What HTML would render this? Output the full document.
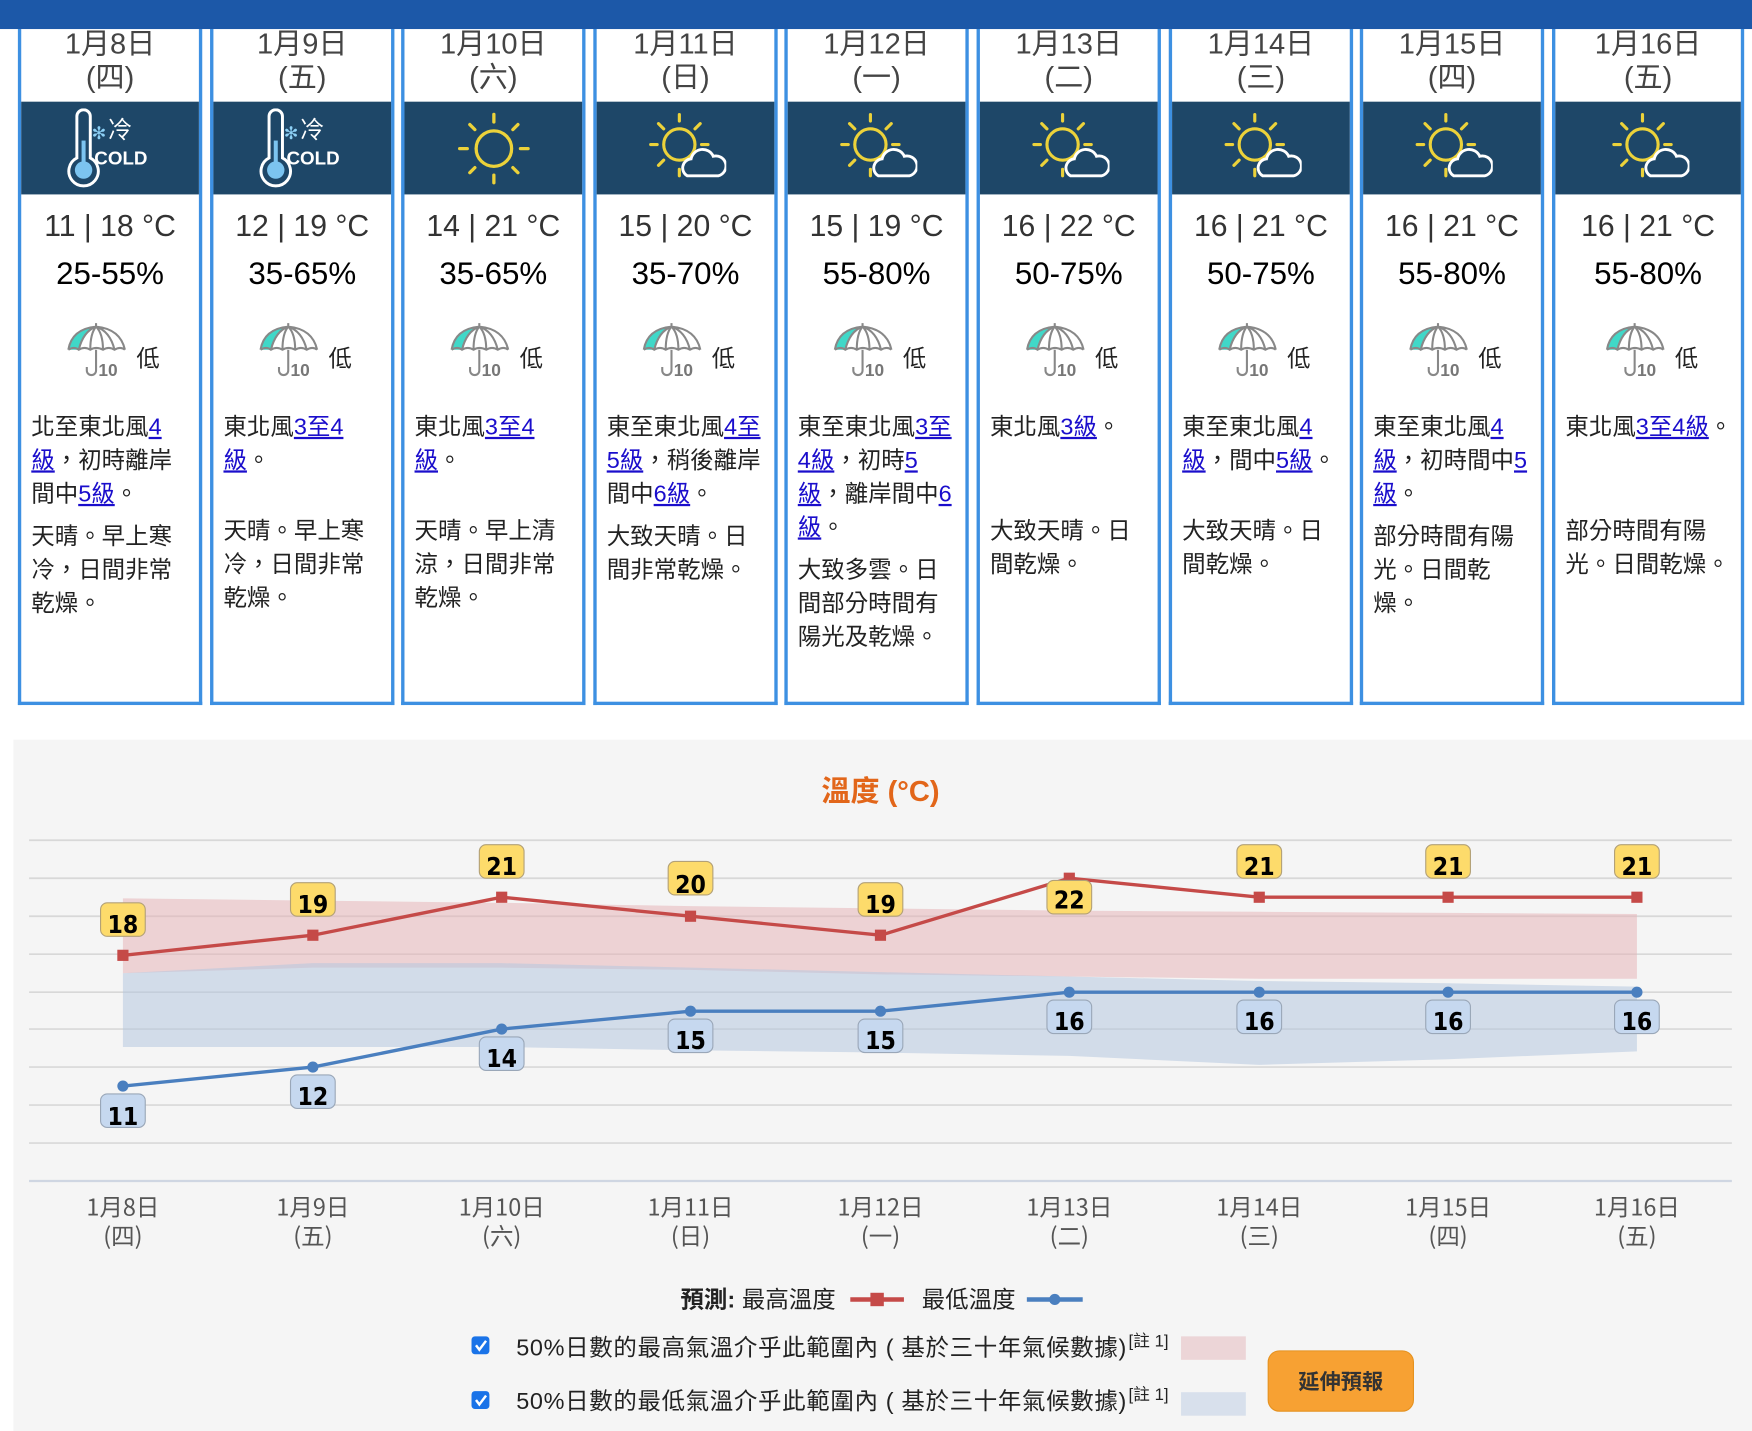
<!DOCTYPE html>
<html><head><meta charset="utf-8">
<style>
html,body{margin:0;padding:0;width:1752px;height:1431px;overflow:hidden;background:#fff;}
#wrap{position:absolute;left:0;top:0;width:1568px;height:1281px;transform:scale(1.117347);transform-origin:0 0;font-family:"Liberation Sans","Noto Sans CJK TC",sans-serif;}
.top{position:absolute;left:0;top:0;width:1568px;height:26px;background:#1c58a8;z-index:5;}
.card{position:absolute;top:-10px;width:159px;height:638px;border:3px solid #3d90e2;border-top:none;background:#fff;}
.date{position:absolute;top:34px;left:0;right:0;text-align:center;font-size:26px;line-height:30px;color:#444;}
.band{position:absolute;top:101px;left:0;right:0;height:83px;background:#1e4768;}
.band svg{position:absolute;left:0;top:0;}
.tmp{position:absolute;top:197px;left:0;right:0;text-align:center;font-size:27px;color:#333;}
.hum{position:absolute;top:239px;left:0;right:0;text-align:center;font-size:28px;color:#000;}
.umb{position:absolute;top:298px;left:37px;}
.low{position:absolute;top:315px;left:103px;font-size:21px;color:#222;font-family:"Noto Sans CJK TC",sans-serif;}
.txt{position:absolute;top:378px;left:9px;width:160px;font-size:21px;line-height:30px;color:#222;white-space:nowrap;}
.wind{min-height:85px;margin-bottom:8px;}
.txt u{color:#1a0dcc;}
#chart{position:absolute;left:0;top:0;}
</style></head><body><div id="wrap">
<svg width="0" height="0" style="position:absolute">
<defs>
<symbol id="sun" viewBox="0 0 60 60">
<g stroke="#ecd23a" stroke-width="2.6" fill="none" stroke-linecap="round">
<circle cx="30" cy="30" r="14"/>
<line x1="30" y1="3" x2="30" y2="9"/><line x1="30" y1="51" x2="30" y2="57"/>
<line x1="3" y1="30" x2="9" y2="30"/><line x1="51" y1="30" x2="57" y2="30"/>
<line x1="11" y1="11" x2="15" y2="15"/><line x1="45" y1="45" x2="49" y2="49"/>
<line x1="49" y1="11" x2="45" y2="15"/><line x1="11" y1="49" x2="15" y2="45"/>
</g></symbol>
<symbol id="sunc" viewBox="0 0 60 60">
<g stroke="#ecd23a" stroke-width="2.4" fill="none" stroke-linecap="round">
<circle cx="24" cy="26" r="12"/>
<line x1="24" y1="3" x2="24" y2="8"/><line x1="24" y1="45" x2="24" y2="50"/>
<line x1="2" y1="26" x2="7" y2="26"/><line x1="41" y1="26" x2="46" y2="26"/>
<line x1="8" y1="10" x2="12" y2="14"/><line x1="8" y1="42" x2="12" y2="38"/>
<line x1="40" y1="10" x2="36" y2="14"/>
</g>
<path d="M30 50 a7 7 0 0 1 3 -13 a9 9 0 0 1 17 -2 a7 7 0 0 1 4 15 z" fill="#1e4768" stroke="#fff" stroke-width="2.2"/>
</symbol>
<symbol id="cold" viewBox="0 0 80 60">
<path d="M14 6 a5 5 0 0 1 10 0 v31 a11 11 0 1 1 -10 0 z" fill="none" stroke="#fff" stroke-width="2.2"/>
<rect x="17.5" y="24" width="3" height="18" fill="#7cc4f0"/>
<circle cx="19" cy="46" r="6.5" fill="#7cc4f0"/>
<text x="25" y="23" fill="#8dd0f5" font-size="13" font-family="DejaVu Sans">✻</text>
<text x="37" y="22" fill="#fff" font-size="18" font-family="Noto Sans CJK TC,sans-serif">冷</text>
<text x="27" y="42" fill="#fff" font-size="14" font-weight="bold" font-family="Liberation Sans,sans-serif">COLD</text>
</symbol>
<symbol id="umb" viewBox="0 0 60 50">
<path d="M5 24 Q8 6 29 4 Q50 6 54 24 Z" fill="#fff"/>
<path d="M5 24 Q8 6 29 4 Q18 8 14 24 Z" fill="#40d8c8"/>
<path d="M5 24 Q8 6 29 4 Q50 6 54 24 M29 4 Q18 8 14 24 M29 4 Q24 10 24 24 M29 4 Q35 10 35 24 M29 4 Q41 8 45 24 M5 24 q5 -3 9 0 q5 -3 10 0 q5 -3 11 0 q5 -3 10 0 q5 -3 9 0 M29 1 v3 M29 24 v18 a4 4 0 0 1 -8 0 v-3" fill="none" stroke="#888" stroke-width="1.8"/>
<text x="31" y="47" font-size="15" font-weight="bold" fill="#777" font-family="Liberation Sans,sans-serif">10</text>
</symbol>
</defs></svg>
<div class="top"></div>

<div class="card" style="left:16px"><div class="date">1月8日<br>(四)</div><div class="band"><svg width="159" height="83"><use href="#cold" x="33" y="6" width="96" height="72"/></svg></div><div class="tmp">11 | 18 °C</div><div class="hum">25-55%</div><svg class="umb" width="62" height="52"><use href="#umb"/></svg><div class="low">低</div><div class="txt"><div class="wind">北至東北風<u>4</u><br><u>級</u>，初時離岸<br>間中<u>5級</u>。</div><div>天晴。早上寒<br>冷，日間非常<br>乾燥。</div></div></div>

<div class="card" style="left:188px"><div class="date">1月9日<br>(五)</div><div class="band"><svg width="159" height="83"><use href="#cold" x="33" y="6" width="96" height="72"/></svg></div><div class="tmp">12 | 19 °C</div><div class="hum">35-65%</div><svg class="umb" width="62" height="52"><use href="#umb"/></svg><div class="low">低</div><div class="txt"><div class="wind">東北風<u>3至4</u><br><u>級</u>。</div><div>天晴。早上寒<br>冷，日間非常<br>乾燥。</div></div></div>

<div class="card" style="left:359px"><div class="date">1月10日<br>(六)</div><div class="band"><svg width="159" height="83"><use href="#sun" x="46" y="8" width="68" height="68"/></svg></div><div class="tmp">14 | 21 °C</div><div class="hum">35-65%</div><svg class="umb" width="62" height="52"><use href="#umb"/></svg><div class="low">低</div><div class="txt"><div class="wind">東北風<u>3至4</u><br><u>級</u>。</div><div>天晴。早上清<br>涼，日間非常<br>乾燥。</div></div></div>

<div class="card" style="left:531px"><div class="date">1月11日<br>(日)</div><div class="band"><svg width="159" height="83"><use href="#sunc" x="46" y="8" width="70" height="70"/></svg></div><div class="tmp">15 | 20 °C</div><div class="hum">35-70%</div><svg class="umb" width="62" height="52"><use href="#umb"/></svg><div class="low">低</div><div class="txt"><div class="wind">東至東北風<u>4至</u><br><u>5級</u>，稍後離岸<br>間中<u>6級</u>。</div><div>大致天晴。日<br>間非常乾燥。</div></div></div>

<div class="card" style="left:702px"><div class="date">1月12日<br>(一)</div><div class="band"><svg width="159" height="83"><use href="#sunc" x="46" y="8" width="70" height="70"/></svg></div><div class="tmp">15 | 19 °C</div><div class="hum">55-80%</div><svg class="umb" width="62" height="52"><use href="#umb"/></svg><div class="low">低</div><div class="txt"><div class="wind">東至東北風<u>3至</u><br><u>4級</u>，初時<u>5</u><br><u>級</u>，離岸間中<u>6</u><br><u>級</u>。</div><div>大致多雲。日<br>間部分時間有<br>陽光及乾燥。</div></div></div>

<div class="card" style="left:874px"><div class="date">1月13日<br>(二)</div><div class="band"><svg width="159" height="83"><use href="#sunc" x="46" y="8" width="70" height="70"/></svg></div><div class="tmp">16 | 22 °C</div><div class="hum">50-75%</div><svg class="umb" width="62" height="52"><use href="#umb"/></svg><div class="low">低</div><div class="txt"><div class="wind">東北風<u>3級</u>。</div><div>大致天晴。日<br>間乾燥。</div></div></div>

<div class="card" style="left:1046px"><div class="date">1月14日<br>(三)</div><div class="band"><svg width="159" height="83"><use href="#sunc" x="46" y="8" width="70" height="70"/></svg></div><div class="tmp">16 | 21 °C</div><div class="hum">50-75%</div><svg class="umb" width="62" height="52"><use href="#umb"/></svg><div class="low">低</div><div class="txt"><div class="wind">東至東北風<u>4</u><br><u>級</u>，間中<u>5級</u>。</div><div>大致天晴。日<br>間乾燥。</div></div></div>

<div class="card" style="left:1217px"><div class="date">1月15日<br>(四)</div><div class="band"><svg width="159" height="83"><use href="#sunc" x="46" y="8" width="70" height="70"/></svg></div><div class="tmp">16 | 21 °C</div><div class="hum">55-80%</div><svg class="umb" width="62" height="52"><use href="#umb"/></svg><div class="low">低</div><div class="txt"><div class="wind">東至東北風<u>4</u><br><u>級</u>，初時間中<u>5</u><br><u>級</u>。</div><div>部分時間有陽<br>光。日間乾<br>燥。</div></div></div>

<div class="card" style="left:1389px;width:166px"><div class="date">1月16日<br>(五)</div><div class="band"><svg width="166" height="83"><use href="#sunc" x="50" y="8" width="70" height="70"/></svg></div><div class="tmp">16 | 21 °C</div><div class="hum">55-80%</div><svg class="umb" width="62" height="52" style="left:41px"><use href="#umb"/></svg><div class="low" style="left:107px">低</div><div class="txt"><div class="wind">東北風<u>3至4級</u>。</div><div>部分時間有陽<br>光。日間乾燥。</div></div></div>

<svg id="chart" width="1568" height="1281">
<rect x="12" y="662" width="1556" height="625" fill="#f5f5f5"/>
<text x="788" y="717" text-anchor="middle" font-size="26" font-weight="bold" fill="#e2661a" font-family="Liberation Sans,Noto Sans CJK TC,sans-serif">溫度 (°C)</text>
<g stroke="#d8d8d8" stroke-width="1.5">
<line x1="26" y1="752" x2="1550" y2="752"/><line x1="26" y1="786" x2="1550" y2="786"/><line x1="26" y1="820" x2="1550" y2="820"/><line x1="26" y1="854" x2="1550" y2="854"/><line x1="26" y1="888" x2="1550" y2="888"/><line x1="26" y1="921" x2="1550" y2="921"/><line x1="26" y1="955" x2="1550" y2="955"/><line x1="26" y1="989" x2="1550" y2="989"/><line x1="26" y1="1023" x2="1550" y2="1023"/>
</g>
<line x1="26" y1="1057" x2="1550" y2="1057" stroke="#cfd6e2" stroke-width="2"/>
<polygon fill="#e5b5b8" fill-opacity="0.55" points="110,804 280,806 449,808 618,811 788,813 957,815 1127,816 1296,817 1465,818 1465,876 1296,876 1127,876 957,874 788,872 618,868 449,866 280,866 110,871"/>
<polygon fill="#b5c6df" fill-opacity="0.55" points="110,871 280,862 449,862 618,866 788,870 957,874 1127,878 1296,880 1465,883 1465,941 1296,948 1127,953 957,945 788,942 618,940 449,937 280,937 110,937"/>
<polyline fill="none" stroke="#c54a48" stroke-width="3" points="110,855 280,837 449,803 618,820 788,837 957,786 1127,803 1296,803 1465,803"/>
<g fill="#c54a48"><rect x="105" y="850" width="10" height="10"/><rect x="275" y="832" width="10" height="10"/><rect x="444" y="798" width="10" height="10"/><rect x="613" y="815" width="10" height="10"/><rect x="783" y="832" width="10" height="10"/><rect x="952" y="781" width="10" height="10"/><rect x="1122" y="798" width="10" height="10"/><rect x="1291" y="798" width="10" height="10"/><rect x="1460" y="798" width="10" height="10"/></g>
<polyline fill="none" stroke="#4a7fbf" stroke-width="3" points="110,972 280,955 449,921 618,905 788,905 957,888 1127,888 1296,888 1465,888"/>
<g fill="#4a7fbf"><circle cx="110" cy="972" r="5"/><circle cx="280" cy="955" r="5"/><circle cx="449" cy="921" r="5"/><circle cx="618" cy="905" r="5"/><circle cx="788" cy="905" r="5"/><circle cx="957" cy="888" r="5"/><circle cx="1127" cy="888" r="5"/><circle cx="1296" cy="888" r="5"/><circle cx="1465" cy="888" r="5"/></g>
<g stroke="#b3a177" stroke-width="1" fill="#fddb6b">
<rect x="90" y="808" width="40" height="30" rx="6"/><rect x="260" y="790" width="40" height="30" rx="6"/><rect x="429" y="756" width="40" height="30" rx="6"/><rect x="598" y="771" width="40" height="30" rx="6"/><rect x="768" y="790" width="40" height="30" rx="6"/><rect x="937" y="788" width="40" height="30" rx="6"/><rect x="1107" y="756" width="40" height="30" rx="6"/><rect x="1276" y="756" width="40" height="30" rx="6"/><rect x="1445" y="756" width="40" height="30" rx="6"/>
</g>
<g stroke="#9aa7b8" stroke-width="1" fill="#c6d8ef">
<rect x="90" y="979" width="40" height="30" rx="6"/><rect x="260" y="962" width="40" height="30" rx="6"/><rect x="429" y="928" width="40" height="30" rx="6"/><rect x="598" y="912" width="40" height="30" rx="6"/><rect x="768" y="912" width="40" height="30" rx="6"/><rect x="937" y="895" width="40" height="30" rx="6"/><rect x="1107" y="895" width="40" height="30" rx="6"/><rect x="1276" y="895" width="40" height="30" rx="6"/><rect x="1445" y="895" width="40" height="30" rx="6"/>
</g>
<g font-family="DejaVu Sans Condensed,DejaVu Sans,sans-serif" font-stretch="condensed" font-weight="bold" font-size="22" text-anchor="middle" fill="#000">
<text x="110" y="835">18</text><text x="280" y="817">19</text><text x="449" y="783">21</text><text x="618" y="799">20</text><text x="788" y="817">19</text><text x="957" y="813">22</text><text x="1127" y="783">21</text><text x="1296" y="783">21</text><text x="1465" y="783">21</text>
<text x="110" y="1007">11</text><text x="280" y="989">12</text><text x="449" y="955">14</text><text x="618" y="939">15</text><text x="788" y="939">15</text><text x="957" y="922">16</text><text x="1127" y="922">16</text><text x="1296" y="922">16</text><text x="1465" y="922">16</text>
</g>
<g font-family="Noto Sans CJK TC,sans-serif" font-size="21" fill="#555" text-anchor="middle">
<text x="110" y="1088">1月8日</text><text x="110" y="1114">(四)</text>
<text x="280" y="1088">1月9日</text><text x="280" y="1114">(五)</text>
<text x="449" y="1088">1月10日</text><text x="449" y="1114">(六)</text>
<text x="618" y="1088">1月11日</text><text x="618" y="1114">(日)</text>
<text x="788" y="1088">1月12日</text><text x="788" y="1114">(一)</text>
<text x="957" y="1088">1月13日</text><text x="957" y="1114">(二)</text>
<text x="1127" y="1088">1月14日</text><text x="1127" y="1114">(三)</text>
<text x="1296" y="1088">1月15日</text><text x="1296" y="1114">(四)</text>
<text x="1465" y="1088">1月16日</text><text x="1465" y="1114">(五)</text>
</g>
<g font-family="Liberation Sans,Noto Sans CJK TC,sans-serif" font-size="21" fill="#222">
<text x="609" y="1170" font-weight="bold">預測:</text><text x="664" y="1170">最高溫度</text>
<line x1="761" y1="1163" x2="809" y2="1163" stroke="#c54a48" stroke-width="4"/><rect x="779" y="1157" width="12" height="12" fill="#c54a48"/>
<text x="825" y="1170">最低溫度</text>
<line x1="919" y1="1163" x2="969" y2="1163" stroke="#4a7fbf" stroke-width="4"/><circle cx="944" cy="1163" r="5" fill="#4a7fbf"/>
<rect x="422" y="1196" width="16" height="16" rx="3" fill="#1a73e8"/><path d="M426 1204 l3 4 l6 -8" stroke="#fff" stroke-width="2.2" fill="none"/>
<rect x="422" y="1245" width="16" height="16" rx="3" fill="#1a73e8"/><path d="M426 1253 l3 4 l6 -8" stroke="#fff" stroke-width="2.2" fill="none"/>
<text x="462" y="1213" textLength="546" lengthAdjust="spacing">50%日數的最高氣溫介乎此範圍內 ( 基於三十年氣候數據)</text>
<text x="1010" y="1205" font-size="15">[註 1]</text>
<text x="462" y="1261" textLength="546" lengthAdjust="spacing">50%日數的最低氣溫介乎此範圍內 ( 基於三十年氣候數據)</text>
<text x="1010" y="1253" font-size="15">[註 1]</text>
</g>
<rect x="1057" y="1196" width="58" height="21" fill="#ecd5d7"/>
<rect x="1057" y="1246" width="58" height="21" fill="#d8e0ec"/>
<rect x="1135" y="1209" width="130" height="54" rx="10" fill="#f7a133" stroke="#e59220"/>
<text x="1200" y="1243" text-anchor="middle" font-size="19" font-weight="bold" fill="#333" font-family="Noto Sans CJK TC,sans-serif">延伸預報</text>
</svg>
</div></body></html>
